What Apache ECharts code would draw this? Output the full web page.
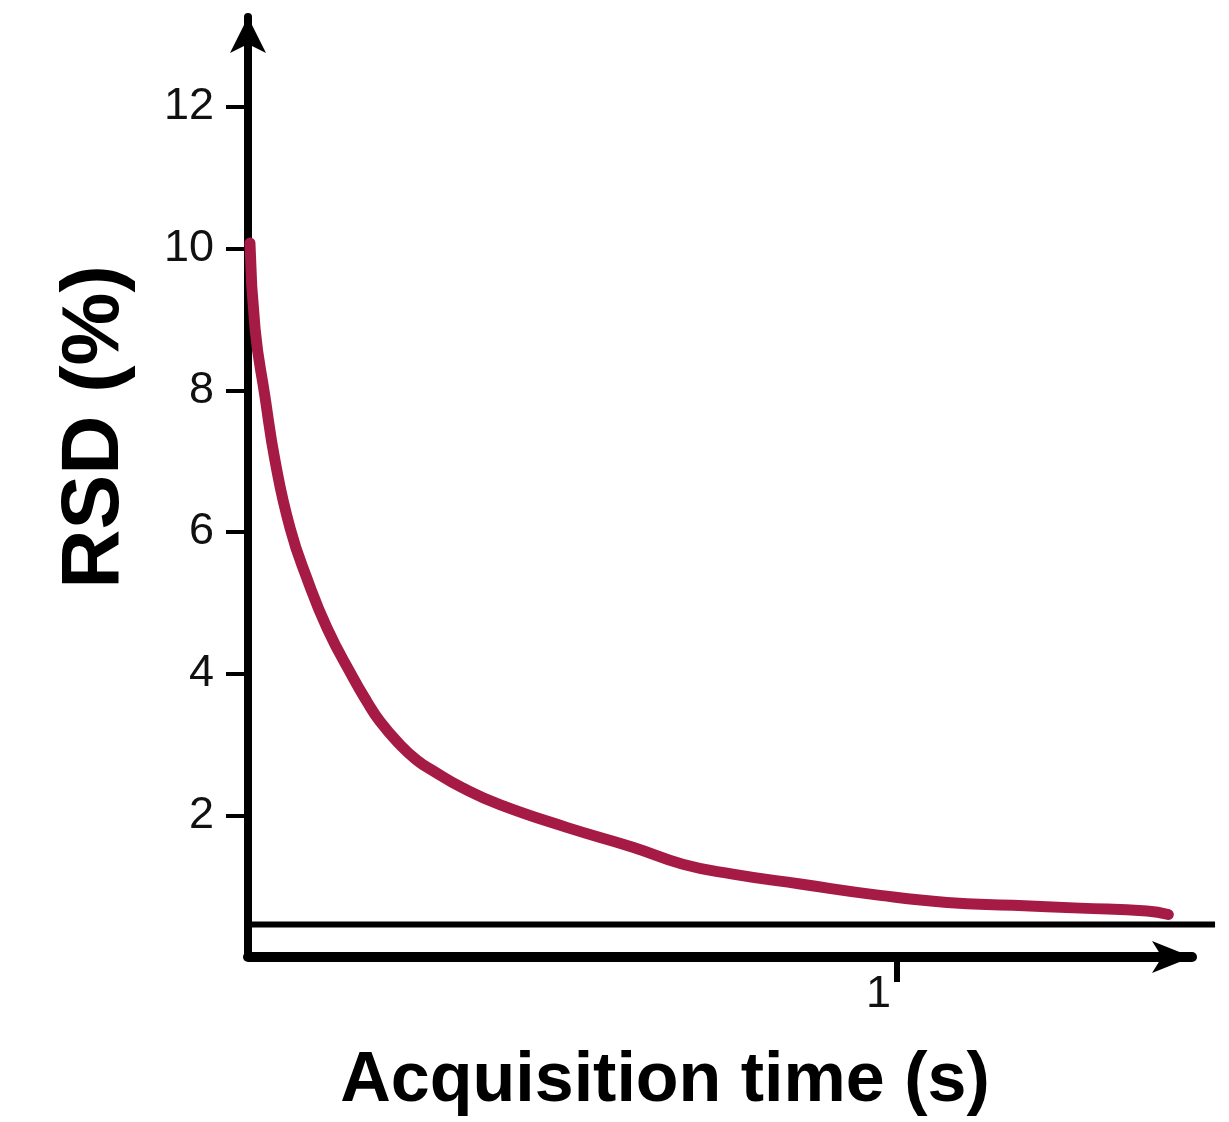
<!DOCTYPE html>
<html>
<head>
<meta charset="utf-8">
<title>RSD vs acquisition time</title>
<script src="https://cdn.jsdelivr.net/npm/echarts@6/dist/echarts.min.js"></script>
<style>
  html, body { margin: 0; padding: 0; background: #fff; }
  #main { width: 1229px; height: 1122px; }
</style>
</head>
<body>
<div id="main"></div>
<script>
// acquisition time (s) and RSD (%)
const timeS = [0.003, 0.011, 0.026, 0.042, 0.065, 0.091, 0.122, 0.162, 0.183, 0.203, 0.234, 0.260, 0.285, 0.330, 0.388, 0.491, 0.593, 0.670, 0.747, 0.851, 0.974, 1.077, 1.179, 1.282, 1.385, 1.418];
const rsd   = [10.08, 8.86, 7.92, 6.99, 6.05, 5.34, 4.64, 3.94, 3.61, 3.33, 3.00, 2.78, 2.63, 2.39, 2.15, 1.83, 1.55, 1.31, 1.17, 1.03, 0.87, 0.77, 0.73, 0.69, 0.65, 0.60];
// flat baseline under the curve, runs a bit past the x arrow
const baseX = [0, 1.49];
const baseY = [0.5, 0.5];
const yTicks = [2, 4, 6, 8, 10, 12];
const xTicks = [1];

const chart = echarts.init(document.getElementById('main'));

const curve = timeS.map((t, i) => [t, rsd[i]]);
const base = baseX.map((t, i) => [t, baseY[i]]);

const labelFont = { fontFamily: 'Liberation Sans', fontSize: 45, color: '#111' };

const option = {
  backgroundColor: '#fff',
  animation: false,
  grid: [
    { left: 248, right: 37, top: 17, bottom: 162 },
    // same scale, wider, only for the baseline
    { left: 248, right: 12, top: 17, bottom: 162 }
  ],
  xAxis: [
    {
      type: 'value',
      min: 0,
      max: 1.4545,
      name: 'Acquisition time (s)',
      nameLocation: 'middle',
      nameGap: 90,
      nameTextStyle: {
        fontFamily: 'Liberation Sans',
        fontWeight: 'bold',
        fontSize: 70,
        color: '#000',
        padding: [0, 110, 0, 0]
      },
      axisLine: {
        show: true,
        symbol: ['none', 'arrow'],
        symbolSize: [24, 40],
        lineStyle: { color: '#000', width: 10 }
      },
      axisTick: {
        show: true,
        customValues: xTicks,
        length: 25,
        lineStyle: { color: '#000', width: 6 }
      },
      axisLabel: Object.assign({
        customValues: xTicks,
        align: 'right',
        padding: [0, 6, 0, 0],
        margin: 15
      }, labelFont),
      splitLine: { show: false }
    },
    { type: 'value', gridIndex: 1, min: 0, max: 1.493, show: false }
  ],
  yAxis: [
    {
      type: 'value',
      min: 0,
      max: 13.27,
      name: 'RSD (%)',
      nameLocation: 'middle',
      nameGap: 112,
      nameTextStyle: {
        fontFamily: 'Liberation Sans',
        fontWeight: 'bold',
        fontSize: 82,
        color: '#000',
        padding: [0, 0, 0, 120]
      },
      axisLine: {
        show: true,
        symbol: ['none', 'arrow'],
        symbolSize: [27, 36],
        lineStyle: { color: '#000', width: 8 }
      },
      axisTick: {
        show: true,
        customValues: yTicks,
        length: 22,
        lineStyle: { color: '#000', width: 4 }
      },
      axisLabel: Object.assign({
        customValues: yTicks,
        margin: 34
      }, labelFont),
      splitLine: { show: false }
    },
    { type: 'value', gridIndex: 1, min: 0, max: 13.27, show: false }
  ],
  series: [
    {
      type: 'line',
      xAxisIndex: 1,
      yAxisIndex: 1,
      data: base,
      clip: false,
      showSymbol: false,
      lineStyle: { color: '#000', width: 6, cap: 'butt' },
      z: 2
    },
    {
      type: 'line',
      data: curve,
      smooth: 0.5,
      clip: false,
      showSymbol: false,
      lineStyle: { color: '#a61b45', width: 11, cap: 'round', join: 'round' },
      z: 3
    }
  ]
};

chart.setOption(option);
</script>
</body>
</html>
